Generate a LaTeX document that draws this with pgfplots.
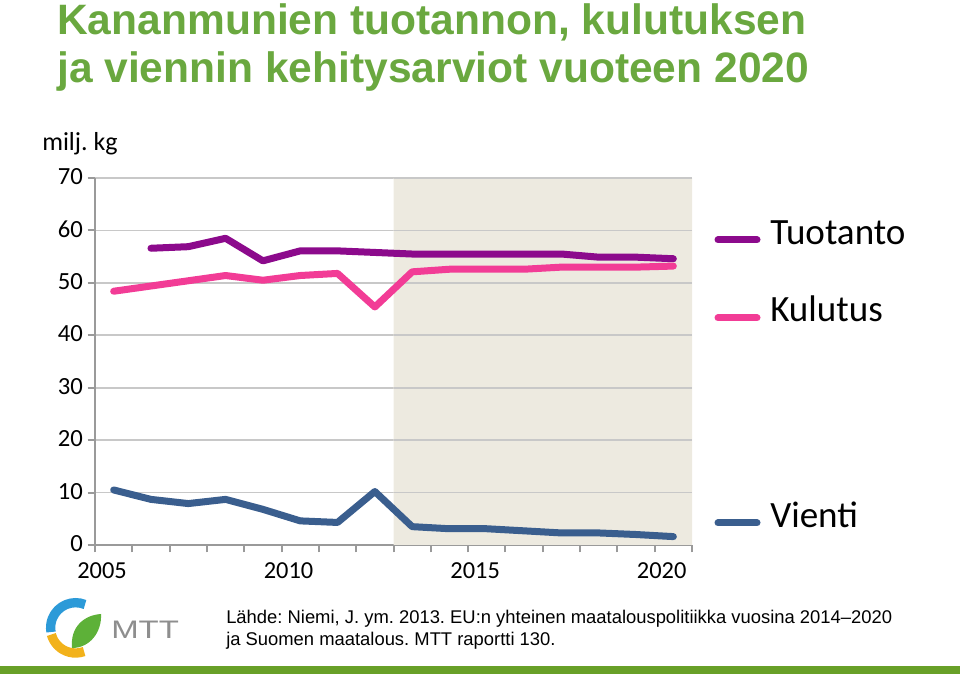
\documentclass[border=0pt]{standalone}
\usepackage{pgfplots}
\pgfplotsset{compat=1.18}
\usepackage{fontspec}
\setmainfont{Carlito}
\newfontfamily\arialfont{Liberation Sans}
\frenchspacing
\definecolor{titlegreen}{HTML}{6AA83F}
\definecolor{tuot}{HTML}{8C0A8C}
\definecolor{kul}{HTML}{F23C96}
\definecolor{vie}{HTML}{3A5E8E}
\definecolor{shade}{HTML}{EDEAE0}
\definecolor{gridc}{HTML}{C8C8C8}
\definecolor{axisc}{HTML}{9A9A9A}
\definecolor{barg}{HTML}{68A028}
\definecolor{logoblue}{HTML}{2C9AD8}
\definecolor{logoyel}{HTML}{F2B21B}
\definecolor{logogreen}{HTML}{5DB138}
\definecolor{mttgray}{HTML}{8E8E8E}

\pgfplotstableread{
x y
1.5 56.6
2.5 56.9
3.5 58.5
4.5 54.2
5.5 56.1
6.5 56.1
7.5 55.8
8.5 55.5
9.5 55.5
10.5 55.5
11.5 55.5
12.5 55.5
13.5 54.9
14.5 54.9
15.5 54.6
}\tuotanto
\pgfplotstableread{
x y
0.5 48.4
1.5 49.4
2.5 50.4
3.5 51.4
4.5 50.5
5.5 51.4
6.5 51.8
7.5 45.4
8.5 52.1
9.5 52.6
10.5 52.6
11.5 52.6
12.5 53.0
13.5 53.0
14.5 53.0
15.5 53.2
}\kulutus
\pgfplotstableread{
x y
0.5 10.5
1.5 8.7
2.5 7.9
3.5 8.7
4.5 6.8
5.5 4.6
6.5 4.3
7.5 10.2
8.5 3.5
9.5 3.1
10.5 3.1
11.5 2.7
12.5 2.3
13.5 2.3
14.5 2.0
15.5 1.6
}\vienti

\begin{document}
\begin{tikzpicture}
\path[use as bounding box] (0,0) rectangle (720pt,505.5pt);

\begin{axis}[at={(71.25pt,96.75pt)}, anchor=south west, scale only axis,
  width=447.75pt, height=275.25pt,
  xmin=0, xmax=16, ymin=0, ymax=70,
  axis x line*=bottom, axis y line*=left,
  axis line style={axisc, line width=2pt},
  xtick={0,...,16}, xticklabels={2005,,,,,2010,,,,,2015,,,,,2020,},
  ytick={0,10,...,70},
  /pgf/number format/assume math mode=true,
  ymajorgrids, major grid style={gridc, line width=1.2pt},
  tick align=outside,
  major tick length=5.5pt,
  tick style={axisc, line width=1.5pt},
  yticklabel style={font=\fontsize{18.5}{20}\selectfont, yshift=1pt},
  xticklabel style={xshift=5.25pt, yshift=-4pt, font=\fontsize{18.3}{20}\selectfont},
]
\addplot[fill=shade, draw=none] coordinates {(8,0) (16,0) (16,70) (8,70) (8,0)};
\addplot[gridc, line width=1.2pt, forget plot] coordinates {(8,10) (16,10)};
\addplot[gridc, line width=1.2pt, forget plot] coordinates {(8,20) (16,20)};
\addplot[gridc, line width=1.2pt, forget plot] coordinates {(8,30) (16,30)};
\addplot[gridc, line width=1.2pt, forget plot] coordinates {(8,40) (16,40)};
\addplot[gridc, line width=1.2pt, forget plot] coordinates {(8,50) (16,50)};
\addplot[gridc, line width=1.2pt, forget plot] coordinates {(8,60) (16,60)};
\addplot[gridc, line width=1.2pt, forget plot] coordinates {(8,70) (16,70)};
\addplot[tuot, line width=5.25pt, line cap=round, line join=round] table[x=x,y=y] {\tuotanto};
\addplot[kul, line width=5.25pt, line cap=round, line join=round] table[x=x,y=y] {\kulutus};
\addplot[vie, line width=5.25pt, line cap=round, line join=round] table[x=x,y=y] {\vienti};
\end{axis}

\begin{scope}[x=0.75pt,y=-0.75pt,shift={(0pt,505.5pt)}]
% title
\node[anchor=base west, inner sep=0, text=titlegreen, font=\arialfont\bfseries\fontsize{31.9}{36}\selectfont] at (57,35) {Kananmunien tuotannon, kulutuksen};
\node[anchor=base west, inner sep=0, text=titlegreen, font=\arialfont\bfseries\fontsize{31.9}{36}\selectfont] at (57,83) {ja viennin kehitysarviot vuoteen 2020};
\node[anchor=base west, inner sep=0, font=\fontsize{19.5}{22}\selectfont] at (42,151) {milj.\ kg};

% legend
\draw[tuot, line width=5.25pt, line cap=round] (718,240) -- (757,240);
\draw[kul, line width=5.25pt, line cap=round] (718,318) -- (757,318);
\draw[vie, line width=5.25pt, line cap=round] (718,523) -- (757,523);
\node[anchor=base west, inner sep=0, font=\fontsize{27.8}{30}\selectfont] at (770,245) {Tuotanto};
\node[anchor=base west, inner sep=0, font=\fontsize{27.8}{30}\selectfont] at (770,322) {Kulutus};
\node[anchor=base west, inner sep=0, font=\fontsize{27.8}{30}\selectfont] at (770,528) {Vienti};

% source
\node[anchor=base west, inner sep=0, font=\arialfont\fontsize{13.8}{16}\selectfont] at (226,624) {Lähde: Niemi, J. ym. 2013. EU:n yhteinen maatalouspolitiikka vuosina 2014–2020};
\node[anchor=base west, inner sep=0, font=\arialfont\fontsize{13.8}{16}\selectfont] at (226,646) {ja Suomen maatalous. MTT raportti 130.};

% logo
\draw[logoblue, line width=7] (85,604.5) arc[start angle=-68, end angle=-190, radius=25];
\draw[logoyel, line width=7] (51.4,634.5) arc[start angle=-195, end angle=-290, radius=25];
\fill[logogreen] (72,648) .. controls (70,626) and (85,615) .. (101,614) .. controls (102,632) and (90,648) .. cycle;
\node[anchor=base west, inner sep=0, text=mttgray, font=\arialfont\fontsize{19}{19}\selectfont] at (111,639) {\scalebox{1.3}[1]{MTT}};

% bottom bar
\fill[barg] (0,666) rectangle (960,674);
\end{scope}
\end{tikzpicture}
\end{document}
